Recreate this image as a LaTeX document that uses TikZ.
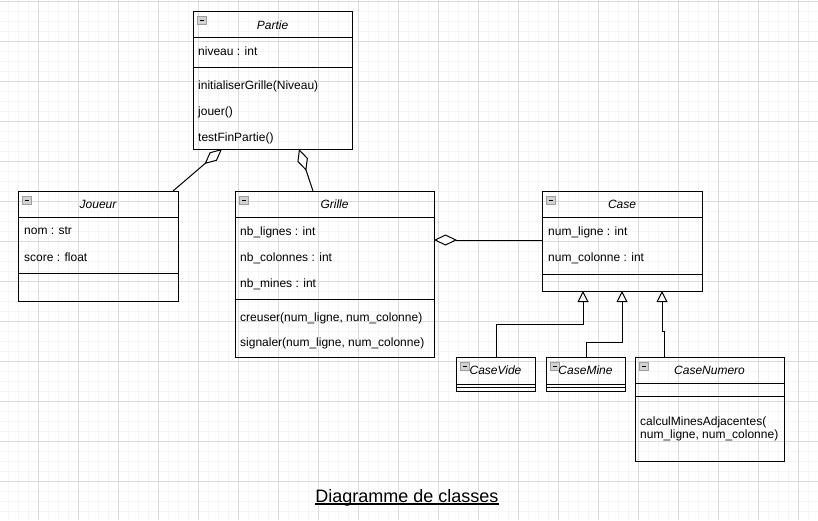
\documentclass[tikz,border=0pt]{standalone}
\usepackage{fontspec}
\setmainfont{Liberation Sans}
\usetikzlibrary{arrows.meta}
\begin{document}
\begin{tikzpicture}[x=1pt,y=-1pt,
  cls/.style={draw, line width=1pt, inner sep=0pt, anchor=north west},
  txt/.style={anchor=base west, inner sep=0pt, font=\fontsize{12}{14}\selectfont},
  ttl/.style={anchor=base, inner sep=0pt, font=\fontsize{12}{14}\selectfont\itshape},
  sep/.style={line width=1pt},
  agg/.style={line width=1pt, -{Diamond[length=23pt,width=11pt,fill=white]}},
  inh/.style={line width=1pt, -{Triangle[length=11pt,width=11pt,fill=white]}},
  icon/.pic={\draw[gray!75, fill=gray!35, line width=0.8pt] (0,0) rectangle (9,8);
             \draw[black, line width=1pt] (2.5,4) -- (6.5,4);}
]
\useasboundingbox (0,0) rectangle (818,520);
% grid
\begin{scope}
\clip (0,0) rectangle (818,520);
\foreach \x in {8,18,...,818} \draw[black!4, line width=1pt] (\x,0) -- (\x,520);
\foreach \y in {1,11,...,520} \draw[black!4, line width=1pt] (0,\y) -- (818,\y);
\foreach \x in {38,78,...,818} \draw[black!14, line width=1pt] (\x,0) -- (\x,520);
\foreach \y in {1,41,...,520} \draw[black!14, line width=1pt] (0,\y) -- (818,\y);
\end{scope}

% Partie
\node[cls, minimum width=159pt, minimum height=138pt] (partie) at (193,11) {};
\pic at (197,16) {icon};
\node[ttl] (partieT) at (272.5,29) {Partie};
\draw[sep] (193,37) -- (352,37);
\node[txt] (p1) at (198,55) {niveau : int};
\draw[sep] (193,67) -- (352,67);
\node[txt] (p2) at (198,89) {initialiserGrille(Niveau)};
\node[txt] (p3) at (198,115) {jouer()};
\node[txt] (p4) at (198,141) {testFinPartie()};

% Joueur
\node[cls, minimum width=160pt, minimum height=110pt] (joueur) at (18,191) {};
\pic at (22,196) {icon};
\node[ttl] (joueurT) at (98,208) {Joueur};
\draw[sep] (18,217) -- (178,217);
\node[txt] (j1) at (24,234) {nom : str};
\node[txt] (j2) at (24,261) {score : float};
\draw[sep] (18,273) -- (178,273);

% Grille
\node[cls, minimum width=199pt, minimum height=166pt] (grille) at (235,191) {};
\pic at (239,196) {icon};
\node[ttl] (grilleT) at (334.5,208) {Grille};
\draw[sep] (235,217) -- (434,217);
\node[txt] (g1) at (240,235) {nb\_lignes : int};
\node[txt] (g2) at (240,261) {nb\_colonnes : int};
\node[txt] (g3) at (240,287) {nb\_mines : int};
\draw[sep] (235,299) -- (434,299);
\node[txt] (g4) at (240,321) {creuser(num\_ligne, num\_colonne)};
\node[txt] (g5) at (240,346) {signaler(num\_ligne, num\_colonne)};

% Case
\node[cls, minimum width=160pt, minimum height=100pt] (case) at (542,191) {};
\pic at (546,196) {icon};
\node[ttl] (caseT) at (622,208) {Case};
\draw[sep] (542,217) -- (702,217);
\node[txt] (c1) at (548,235) {num\_ligne : int};
\node[txt] (c2) at (548,261) {num\_colonne : int};
\draw[sep] (542,274) -- (702,274);

% CaseVide
\node[cls, minimum width=79pt, minimum height=34pt] (vide) at (456,357) {};
\pic at (460,362) {icon};
\node[ttl] (videT) at (495.5,374) {CaseVide};
\draw[sep] (456,384) -- (535,384);
\draw[sep] (456,387.5) -- (535,387.5);

% CaseMine
\node[cls, minimum width=79pt, minimum height=34pt] (mine) at (546,357) {};
\pic at (550,362) {icon};
\node[ttl] (mineT) at (585.5,374) {CaseMine};
\draw[sep] (546,384) -- (625,384);
\draw[sep] (546,387.5) -- (625,387.5);

% CaseNumero
\node[cls, minimum width=149pt, minimum height=104pt] (numero) at (635,357) {};
\pic at (639,362) {icon};
\node[ttl] (numeroT) at (709.5,374) {CaseNumero};
\draw[sep] (635,383) -- (784,383);
\draw[sep] (635,396) -- (784,396);
\node[txt] (n1) at (640,425) {calculMinesAdjacentes(};
\node[txt] (n2) at (640,438) {num\_ligne, num\_colonne)};

% connectors
\coordinate (pJ) at (222,149);
\coordinate (jP) at (173,191);
\coordinate (pG) at (299,149);
\coordinate (gP) at (313,191);
\coordinate (gC) at (434,240);
\coordinate (cG) at (542,240);
\draw[agg] (jP) -- (pJ);
\draw[agg] (gP) -- (pG);
\draw[agg] (cG) -- (gC);

\coordinate (t1) at (583,291);
\coordinate (t2) at (622,291);
\coordinate (t3) at (662,291);
\coordinate (nTop) at (664,357);
\draw[inh] (vide.north) -- ++(0,-33) -| (t1);
\draw[inh] (mine.north) -- ++(0,-15) -| (t2);
\draw[inh] (nTop) -- ++(0,-26) -| (t3);

% title
\node[anchor=base, inner sep=0pt, font=\fontsize{18}{20}\selectfont] (title) at (407,502) {Diagramme de classes};
\draw[line width=1.2pt] ([yshift=-2pt]title.base west) -- ([yshift=-2pt]title.base east);
\end{tikzpicture}
\end{document}
